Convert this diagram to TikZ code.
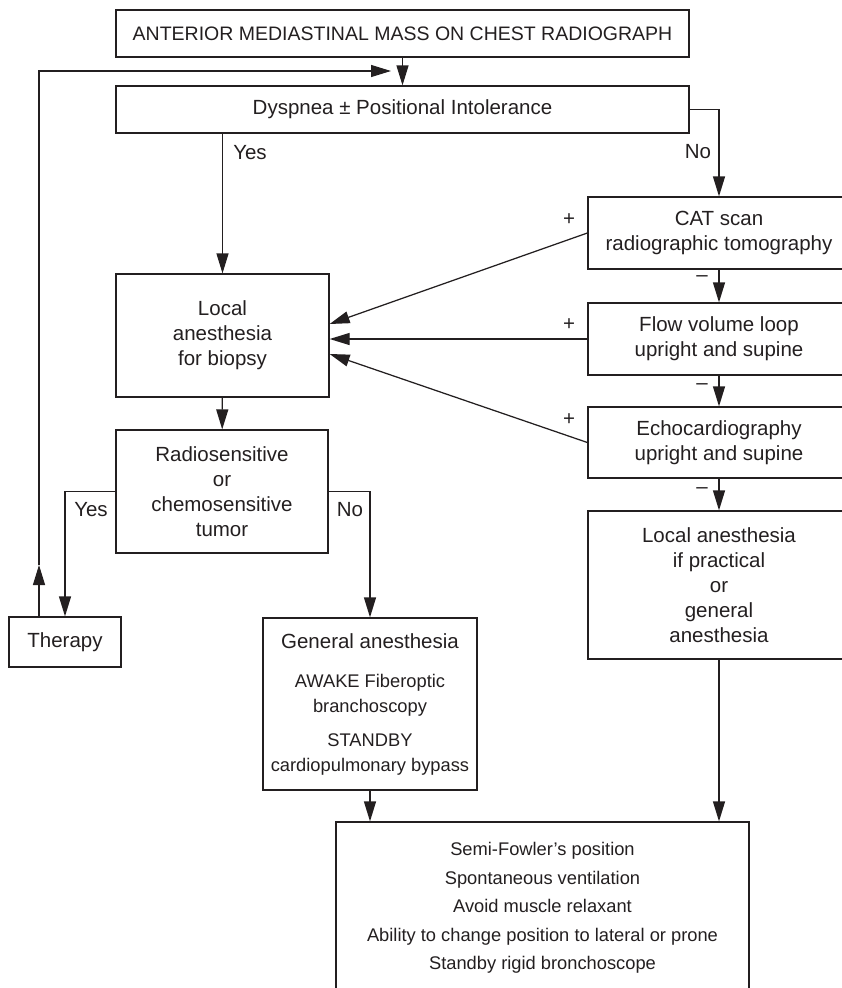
\documentclass[tikz,border=0pt]{standalone}
\usepackage{fontspec}
\setmainfont{Liberation Sans}
\usetikzlibrary{arrows.meta}
\definecolor{ink}{HTML}{231F20}
\newcommand\mainsize{\fontsize{20.5}{25}\selectfont}
\newcommand\notesize{\fontsize{18.3}{22.5}\selectfont}

\begin{document}
\begin{tikzpicture}[x=1pt,y=-1pt,>={Triangle[length=20pt,width=12pt]},
  ink,line width=1.25pt,
  box/.style={draw,align=center,inner sep=0pt,font=\mainsize},
  tag/.style={inner sep=0pt,font=\mainsize}]
  \useasboundingbox (0,0) rectangle (842,988);
  % main column
  \node[box,minimum width=573,minimum height=47,font=\fontsize{19.5}{24}\selectfont] (title) at (402.5,33.5) {ANTERIOR MEDIASTINAL MASS ON CHEST RADIOGRAPH};
  \node[box,minimum width=573,minimum height=47] (dyspnea) at (402.5,109.5) {Dyspnea ± Positional Intolerance};
  \node[box,minimum width=213,minimum height=123] (local) at (222.5,335.5) {Local\\anesthesia\\for biopsy};
  \node[box,minimum width=212,minimum height=123] (radio) at (222,491.5) {Radiosensitive\\or\\chemosensitive\\tumor};
  \node[box,minimum width=112,minimum height=50] (therapy) at (65,642) {Therapy};
  \node[box,minimum width=214,minimum height=172] (general) at (370,704)
    {General anesthesia\\[14pt]{\notesize AWAKE Fiberoptic}\\{\notesize branchoscopy}\\[9pt]{\notesize STANDBY}\\{\notesize cardiopulmonary bypass}};
  % right column, cut off at the page edge
  \node[box,minimum width=262,minimum height=72] (cat) at (719,233) {CAT scan\\radiographic tomography};
  \node[box,minimum width=262,minimum height=72] (flow) at (719,339) {Flow volume loop\\upright and supine};
  \node[box,minimum width=262,minimum height=71] (echo) at (719,442.5) {Echocardiography\\upright and supine};
  \node[box,minimum width=262,minimum height=148] (localgen) at (719,585) {Local anesthesia\\if practical\\or\\general\\anesthesia};
  \node[box,minimum width=413,minimum height=172,font=\fontsize{18.3}{28.5}\selectfont] (care) at (542.5,908)
    {Semi-Fowler's position\\Spontaneous ventilation\\Avoid muscle relaxant\\Ability to change position to lateral or prone\\Standby rigid bronchoscope};
  % branch labels
  \node[tag] (yes1) at (250,153) {Yes};
  \node[tag] (no1) at (698,152) {No};
  \node[tag] (yes2) at (91,510) {Yes};
  \node[tag] (no2) at (350,510) {No};
  \node[tag] (plus1) at (569,220) {+};
  \node[tag] (plus2) at (569,325) {+};
  \node[tag] (plus3) at (569,420) {+};
  \node[tag] (minus1) at (702,279) {–};
  \node[tag] (minus2) at (702,387) {–};
  \node[tag] (minus3) at (702,491) {–};
  \coordinate (ret) at (39,565);
  \coordinate (fb) at (391,71);
  % connectors
  \draw[->] (title) -- (dyspnea);
  \draw[->] (dyspnea.south -| local.north) -- (local.north);
  \draw[->] (dyspnea.east) -| (cat.north);
  \draw[->] (cat) -- (flow);
  \draw[->] (flow) -- (echo);
  \draw[->] (echo) -- (localgen);
  \draw[->] (cat.west) -- ([yshift=11.5pt]local.east);
  \draw[->] (flow.west) -- (flow.west -| local.east);
  \draw[->] (echo.west) -- ([yshift=-18.5pt]local.east);
  \draw[->] (local) -- (radio);
  \draw[->] (radio.west) -| (therapy.north);
  \draw[->] (radio.east) -| (general.north);
  \draw[->] (therapy.north -| ret) -- (ret);
  \draw[->] (ret) |- (fb);
  \draw[->] (general.south) -- (general.south |- care.north);
  \draw[->] (localgen.south) -- (localgen.south |- care.north);
\end{tikzpicture}
\end{document}
